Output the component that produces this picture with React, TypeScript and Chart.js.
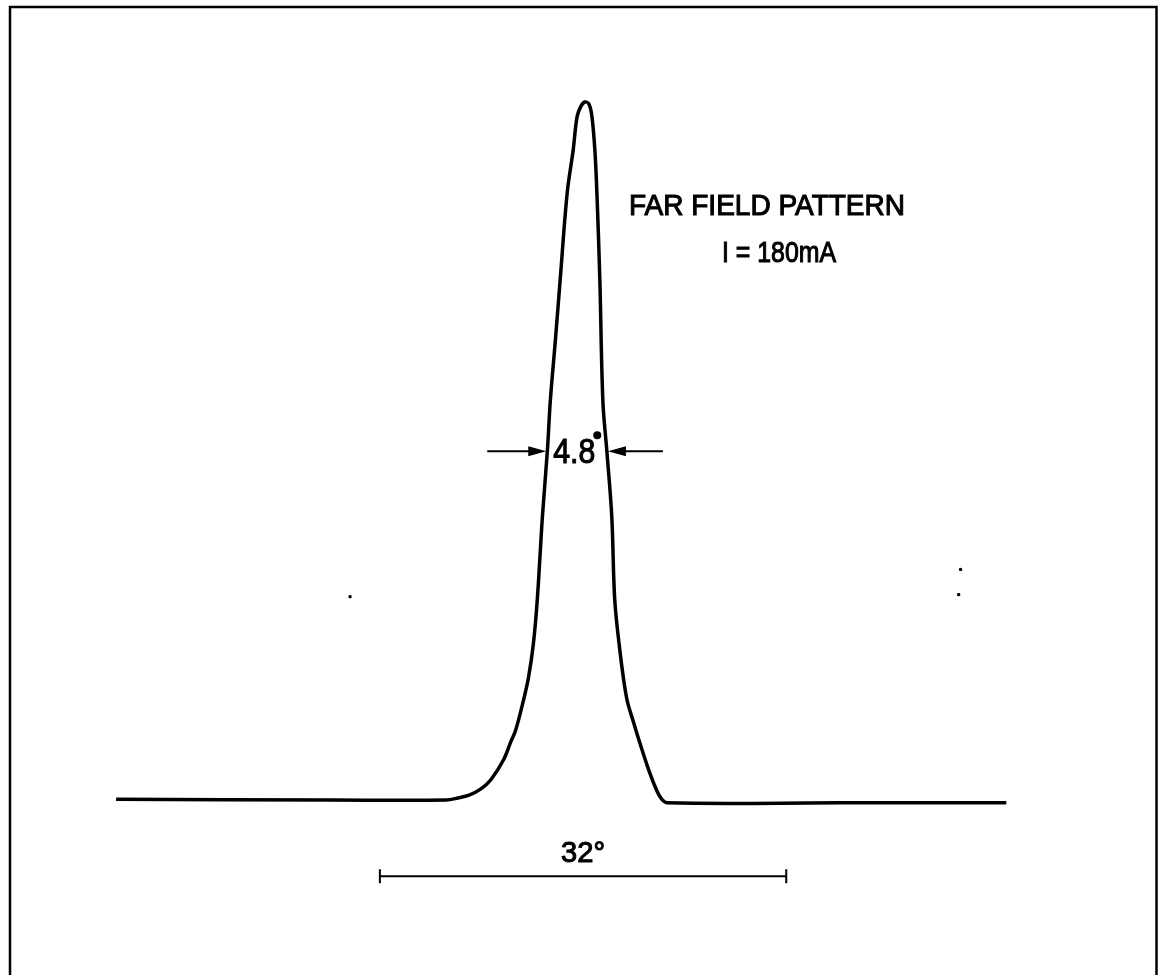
import React, { useEffect, useRef } from "react";
import { Chart, registerables } from "chart.js";

Chart.register(...registerables);

// Far-field profile: angle (degrees, relative to the peak) vs normalised intensity
const angleDeg = [
  -37.0, -20.0, -11.01, -10.07, -9.21, -8.27, -7.49, -6.48, -5.93, -5.54, -4.92,
  -4.53, -4.14, -3.83, -3.43, -3.04, -2.81, -2.42, -2.03, -1.48, -1.01, -0.7,
  -0.39, -0.08, 0.23, 0.47, 0.7, 0.86, 1.09, 1.33, 1.64, 2.03, 2.26, 2.65, 3.2,
  3.75, 4.22, 5.0, 5.54, 5.93, 6.4, 20.0, 33.1,
];
const intensity = [
  0.002, 0.001, 0.001, 0.004, 0.008, 0.017, 0.03, 0.059, 0.084, 0.101, 0.144,
  0.176, 0.225, 0.289, 0.407, 0.501, 0.572, 0.657, 0.746, 0.87, 0.931, 0.979,
  0.994, 1.0, 0.997, 0.979, 0.931, 0.87, 0.746, 0.572, 0.501, 0.407, 0.289, 0.218,
  0.147, 0.112, 0.084, 0.041, 0.016, 0.003, -0.003, -0.003, -0.003,
];

// small specks on the original scan
const speckAngle = [-18.58, 29.5, 29.35];
const speckIntensity = [0.292, 0.331, 0.295];

// annotation values (data units)
const titleLines = ["FAR FIELD PATTERN", "I = 180mA"];
const fwhmLabel = "4.8";
const fwhmLeft = -3.05;
const fwhmRight = 1.65;
const halfMax = 0.5;
const spanLabel = "32°";
const spanCenter = -0.23;
const spanWidth = 32;
const spanLevel = -0.108;

const X_MIN = -45.75;
const X_MAX = 44.65;
const Y_MIN = -0.2422;
const Y_MAX = 1.1388;

const FONT = '"Liberation Sans", Arial, sans-serif';

function fitText(
  ctx: CanvasRenderingContext2D,
  text: string,
  x: number,
  baseline: number,
  px: number,
  width: number,
  align: "left" | "center"
) {
  ctx.save();
  ctx.font = `${px}px ${FONT}`;
  ctx.textAlign = "left";
  ctx.textBaseline = "alphabetic";
  const w = ctx.measureText(text).width;
  const s = width / w;
  const left = align === "center" ? x - width / 2 : x;
  ctx.translate(left, baseline);
  ctx.scale(s, 1);
  ctx.fillText(text, 0, 0);
  ctx.lineWidth = 1.1;
  ctx.strokeText(text, 0, 0);
  ctx.restore();
}

const overlay = {
  id: "overlay",
  afterDatasetsDraw(chart: any) {
    const ctx = chart.ctx as CanvasRenderingContext2D;
    const xs = chart.scales.x;
    const ys = chart.scales.y;
    const W = chart.width;
    const H = chart.height;
    ctx.save();
    ctx.strokeStyle = "#000";
    ctx.fillStyle = "#000";

    // frame
    ctx.lineWidth = 2.5;
    ctx.beginPath();
    ctx.moveTo(10, H + 5);
    ctx.lineTo(10, 7);
    ctx.lineTo(W - 1.5, 7);
    ctx.lineTo(W - 1.5, H + 5);
    ctx.stroke();

    // title
    fitText(ctx, titleLines[0], 629, 215, 30, 276, "left");
    fitText(ctx, titleLines[1], 722, 262, 30, 114, "left");

    // FWHM arrows
    const yh = ys.getPixelForValue(halfMax);
    const xl = xs.getPixelForValue(fwhmLeft);
    const xr = xs.getPixelForValue(fwhmRight);
    ctx.lineWidth = 2;
    ctx.beginPath();
    ctx.moveTo(xl - 60, yh);
    ctx.lineTo(xl - 15, yh);
    ctx.moveTo(xr + 15, yh);
    ctx.lineTo(xr + 56, yh);
    ctx.stroke();
    ctx.beginPath();
    ctx.moveTo(xl - 1, yh);
    ctx.lineTo(xl - 19, yh - 5);
    ctx.lineTo(xl - 19, yh + 5);
    ctx.closePath();
    ctx.fill();
    ctx.beginPath();
    ctx.moveTo(xr + 1, yh);
    ctx.lineTo(xr + 19, yh - 5);
    ctx.lineTo(xr + 19, yh + 5);
    ctx.closePath();
    ctx.fill();

    fitText(ctx, fwhmLabel, xl + 6, yh + 12, 35, 42, "left");
    ctx.beginPath();
    ctx.arc(xl + 6 + 42 + 2, yh - 16, 4, 0, Math.PI * 2);
    ctx.fill();

    // span bar
    const yb = ys.getPixelForValue(spanLevel);
    const xa = xs.getPixelForValue(spanCenter - spanWidth / 2);
    const xb = xs.getPixelForValue(spanCenter + spanWidth / 2);
    ctx.lineWidth = 2;
    ctx.beginPath();
    ctx.moveTo(xa, yb);
    ctx.lineTo(xb, yb);
    ctx.moveTo(xa, yb - 7);
    ctx.lineTo(xa, yb + 7);
    ctx.moveTo(xb, yb - 7);
    ctx.lineTo(xb, yb + 7);
    ctx.stroke();
    fitText(ctx, spanLabel, (xa + xb) / 2, yb - 14, 30, 44, "center");

    ctx.restore();
  },
};

export default function App() {
  const ref = useRef<HTMLCanvasElement | null>(null);
  useEffect(() => {
    document.body.style.margin = "0";
    const canvas = ref.current!;
    const chart = new Chart(canvas, {
      type: "line",
      data: {
        datasets: [
          {
            label: "Far field",
            data: angleDeg.map((a, i) => ({ x: a, y: intensity[i] })),
            borderColor: "#000",
            borderWidth: 3.5,
            pointRadius: 0,
            fill: false,
            tension: 0.35,
          },
          {
            label: "specks",
            type: "scatter",
            data: speckAngle.map((a, i) => ({ x: a, y: speckIntensity[i] })),
            backgroundColor: "#000",
            borderColor: "#000",
            pointRadius: 1.5,
            pointStyle: "rect",
          } as any,
        ],
      },
      options: {
        animation: false,
        responsive: false,
        devicePixelRatio: 1,
        layout: { padding: 0 },
        plugins: { legend: { display: false }, title: { display: false }, tooltip: { enabled: false } },
        scales: {
          x: { type: "linear", display: false, min: X_MIN, max: X_MAX },
          y: { type: "linear", display: false, min: Y_MIN, max: Y_MAX },
        },
      },
      plugins: [overlay],
    });
    return () => chart.destroy();
  }, []);
  return (
    <div style={{ position: "absolute", left: 0, top: 0, width: 1158, height: 975, background: "#fff" }}>
      <canvas ref={ref} width={1158} height={975} style={{ display: "block" }} />
    </div>
  );
}
